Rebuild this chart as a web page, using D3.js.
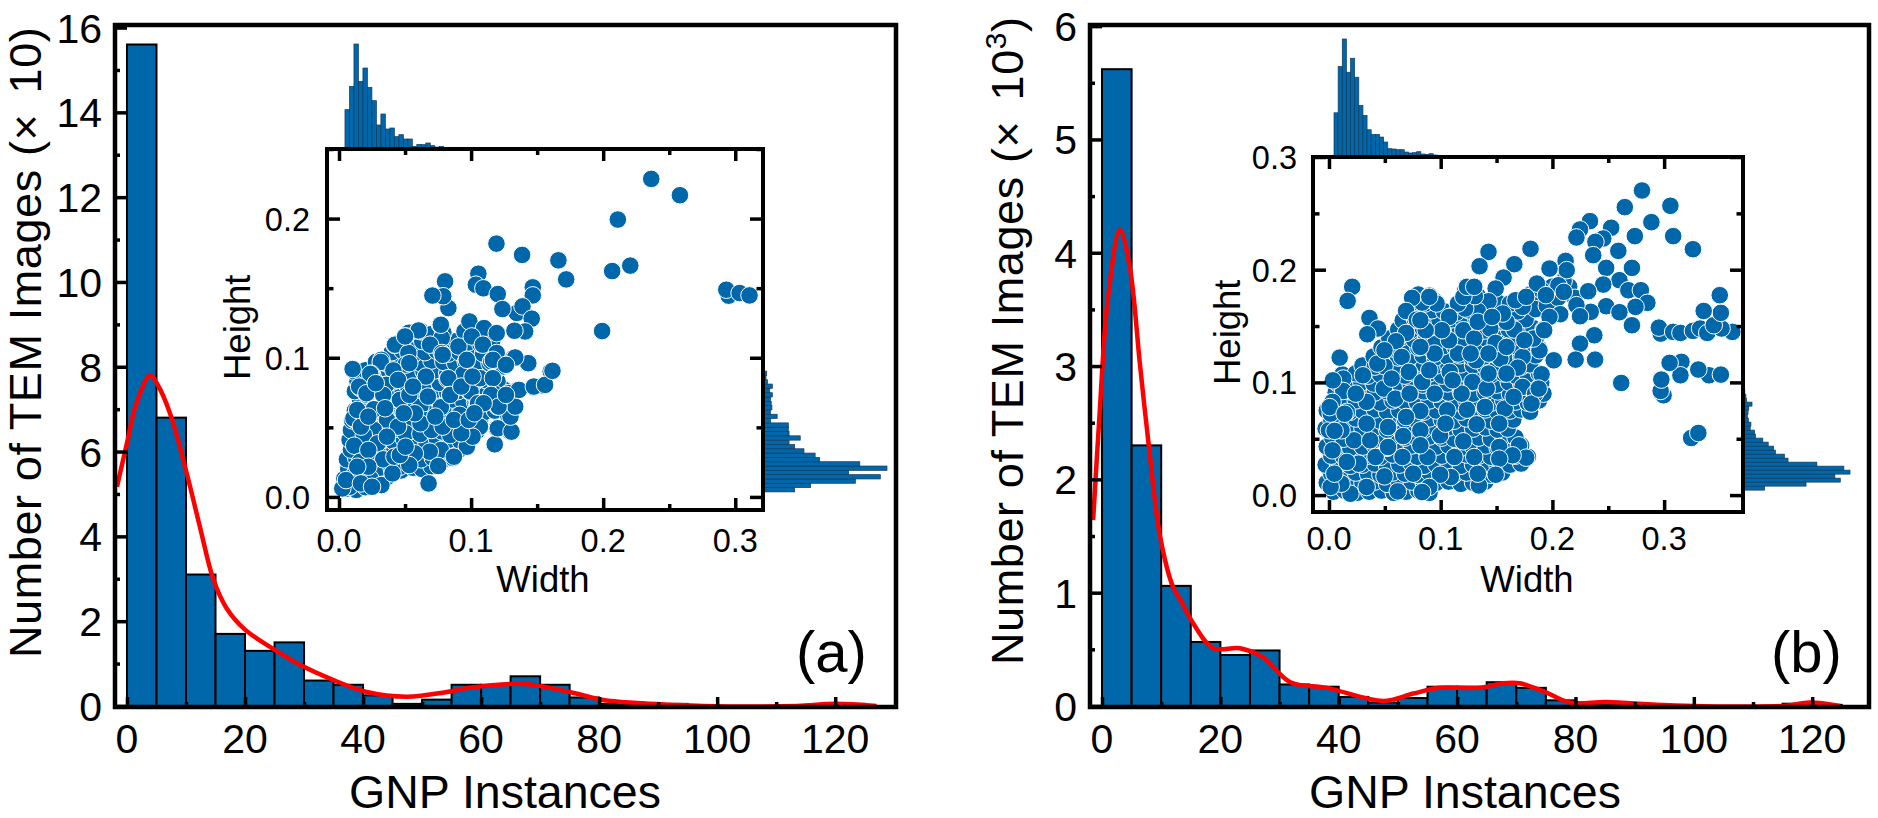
<!DOCTYPE html>
<html>
<head>
<meta charset="utf-8">
<title>GNP instances</title>
<script src="https://d3js.org/d3.v7.min.js"></script>
<style>
  html, body { margin: 0; padding: 0; background: #fff; }
  svg { display: block; }
  text { font-family: "Liberation Sans", Arial, sans-serif; fill: #000; }
</style>
</head>
<body>
<svg id="chart" width="1878" height="818"></svg>
<script>
const BLUE = '#0067ab';
const RED = '#ff0000';

// histogram of GNP instances, 5 wide bins from 0
const countsA = [15.6, 6.8, 3.1, 1.7, 1.3, 1.5, 0.6, 0.5, 0.25, 0.05, 0.15, 0.5, 0.5, 0.7, 0.5, 0.2, 0.05, 0.05, 0.05, 0, 0, 0, 0, 0.03, 0.05];
const countsB = [5.62, 2.3, 1.06, 0.565, 0.45, 0.49, 0.19, 0.17, 0.08, 0.03, 0.07, 0.17, 0.17, 0.21, 0.16, 0.05, 0.01, 0.02, 0.01, 0, 0, 0, 0, 0.02, 0.01];

// red density curves
const curveA = [[-1.7, 5.17], [0, 6.2], [1.5, 7.1], [3.9, 7.8], [5.1, 7.6], [7.3, 6.9], [10.1, 5.5], [12.4, 4.2], [14.6, 3.0], [16.9, 2.3], [20, 1.8], [24.5, 1.37], [29.3, 0.97], [35, 0.61], [40.6, 0.33], [47.4, 0.22], [54.2, 0.33], [58, 0.43], [67.2, 0.52], [75, 0.33], [80.7, 0.14], [86.4, 0.07], [92, 0.03], [97.6, 0], [113.5, 0], [120, 0.05], [127, 0]];
const curveB = [[-1.5, 1.64], [-0.5, 2.5], [1, 3.6], [3.04, 4.2], [4.7, 3.87], [6.4, 3.02], [7.9, 2.3], [9.8, 1.5], [12, 1.05], [13.2, 0.94], [15.4, 0.73], [18.8, 0.51], [23.3, 0.51], [27.2, 0.43], [31.8, 0.21], [38, 0.16], [47.5, 0.045], [52.6, 0.11], [57, 0.16], [63.9, 0.16], [67.8, 0.2], [70.6, 0.2], [75, 0.12], [79, 0.03], [85.3, 0.035], [93.7, 0.01], [100, 0], [115, 0], [119.6, 0.03], [124.7, 0]];

// marginal histograms of the insets (relative counts)
const widthBinsA = [118, 188, 315, 203, 243, 185, 145, 72, 105, 60, 63, 37, 43, 30, 30, 8, 14, 13, 18, 10, 6, 8, 3, 5, 5, 5, 2, 2, 1];
const heightBinsA = [85, 128, 248, 315, 230, 333, 260, 152, 140, 110, 85, 70, 100, 70, 68, 68, 20, 38, 20, 24, 22, 20, 25, 18, 25, 12, 8, 10, 3, 2, 3, 2, 2, 1, 1, 1, 1, 1];
const widthBinsB = [133, 272, 355, 255, 297, 240, 155, 125, 82, 68, 68, 60, 45, 25, 24, 22, 22, 15, 12, 13, 16, 9, 8, 10, 6, 3, 2, 1, 1];
const heightBinsB = [60, 175, 270, 255, 297, 280, 205, 125, 115, 90, 85, 70, 55, 35, 32, 20, 22, 15, 12, 14, 16, 25, 10, 8, 5, 3, 1, 1];

// width, height of the particles in the dense part of each cloud, estimated
const clusterA = [
  [.006, .006], [.013, .005], [.02, .007],
  [.004, .013], [.011, .014], [.018, .012], [.027, .013], [.036, .014],
  [.007, .02], [.015, .021], [.024, .019], [.031, .021], [.04, .02], [.047, .019], [.056, .021], [.063, .02], [.07, .022],
  [.006, .027], [.013, .028], [.021, .026], [.029, .028], [.038, .027], [.046, .026], [.054, .028], [.062, .027], [.071, .028], [.078, .026], [.086, .028],
  [.009, .034], [.017, .035], [.026, .033], [.034, .035], [.042, .034], [.05, .033], [.059, .035], [.067, .034], [.075, .033], [.084, .035], [.091, .034],
  [.008, .041], [.015, .04], [.024, .042], [.033, .041], [.041, .04], [.049, .042], [.058, .041], [.066, .04], [.074, .042], [.083, .041], [.092, .04], [.1, .042],
  [.009, .048], [.018, .049], [.027, .047], [.035, .048], [.044, .049], [.053, .047], [.061, .048], [.069, .049], [.078, .047], [.087, .048], [.096, .049], [.104, .047],
  [.01, .055], [.02, .054], [.029, .056], [.037, .055], [.046, .054], [.054, .056], [.063, .055], [.071, .054], [.08, .056], [.089, .055], [.098, .054], [.107, .056],
  [.012, .062], [.021, .063], [.03, .061], [.04, .062], [.048, .063], [.057, .061], [.066, .062], [.074, .063], [.083, .061], [.092, .062], [.101, .063], [.11, .061], [.118, .062],
  [.016, .069], [.025, .068], [.034, .07], [.042, .069], [.05, .068], [.059, .07], [.068, .069], [.077, .068], [.086, .07], [.094, .069], [.103, .068], [.112, .07], [.122, .069],
  [.012, .076], [.022, .077], [.031, .075], [.039, .076], [.048, .077], [.056, .075], [.065, .076], [.073, .077], [.082, .075], [.09, .076], [.099, .077], [.108, .075], [.117, .076], [.125, .077],
  [.014, .083], [.023, .082], [.032, .084], [.041, .083], [.05, .082], [.058, .084], [.067, .083], [.076, .082], [.085, .084], [.093, .083], [.102, .082], [.111, .084], [.12, .083],
  [.012, .09], [.02, .091], [.03, .089], [.038, .09], [.047, .091], [.056, .089], [.064, .09], [.073, .091], [.082, .089], [.09, .09], [.099, .091], [.108, .089], [.118, .09],
  [.028, .097], [.036, .096], [.045, .098], [.053, .097], [.062, .096], [.07, .098], [.079, .097], [.088, .096], [.096, .098], [.105, .097], [.114, .096], [.123, .098],
  [.04, .104], [.048, .105], [.057, .103], [.065, .104], [.074, .105], [.083, .103], [.091, .104], [.1, .105], [.109, .103], [.118, .104],
  [.046, .111], [.055, .11], [.063, .112], [.072, .111], [.08, .11], [.089, .112], [.098, .111], [.107, .11], [.116, .112],
  [.053, .118], [.062, .119], [.07, .117], [.079, .118], [.095, .119], [.104, .117], [.113, .118]
];
const clusterB = [
  [.004, .003], [.014, .004], [.025, .002], [.036, .003], [.047, .004], [.058, .002], [.069, .003], [.08, .004], [.09, .002],
  [-.002, .011], [.008, .012], [.019, .01], [.03, .011], [.041, .012], [.052, .01], [.063, .011], [.074, .012], [.085, .01], [.096, .011], [.107, .012], [.118, .01], [.129, .011], [.14, .012],
  [.002, .019], [.013, .018], [.024, .02], [.035, .019], [.046, .018], [.057, .02], [.068, .019], [.079, .018], [.09, .02], [.101, .019], [.112, .018], [.123, .02], [.134, .019], [.145, .018], [.155, .02],
  [-.003, .027], [.008, .028], [.019, .026], [.03, .027], [.041, .028], [.052, .026], [.063, .027], [.074, .028], [.085, .026], [.096, .027], [.107, .028], [.118, .026], [.129, .027], [.14, .028], [.151, .026], [.162, .027], [.172, .028],
  [.002, .035], [.013, .034], [.024, .036], [.035, .035], [.046, .034], [.057, .036], [.068, .035], [.079, .034], [.09, .036], [.101, .035], [.112, .034], [.123, .036], [.134, .035], [.145, .034], [.156, .036], [.167, .035], [.178, .034],
  [-.002, .043], [.008, .044], [.019, .042], [.03, .043], [.041, .044], [.052, .042], [.063, .043], [.074, .044], [.085, .042], [.096, .043], [.107, .044], [.118, .042], [.129, .043], [.14, .044], [.151, .042], [.162, .043], [.172, .044],
  [.003, .051], [.013, .05], [.024, .052], [.035, .051], [.046, .05], [.057, .052], [.068, .051], [.079, .05], [.09, .052], [.101, .051], [.112, .05], [.123, .052], [.134, .051], [.145, .05], [.156, .052], [.167, .051],
  [-.003, .059], [.008, .06], [.019, .058], [.03, .059], [.041, .06], [.052, .058], [.063, .059], [.074, .06], [.085, .058], [.096, .059], [.107, .06], [.118, .058], [.129, .059], [.14, .06], [.151, .058], [.16, .059],
  [.002, .067], [.013, .066], [.024, .068], [.035, .067], [.046, .066], [.057, .068], [.068, .067], [.079, .066], [.09, .068], [.101, .067], [.112, .066], [.123, .068], [.134, .067], [.145, .066], [.156, .068], [.165, .067],
  [-.002, .075], [.008, .076], [.019, .074], [.03, .075], [.041, .076], [.052, .074], [.063, .075], [.074, .076], [.085, .074], [.096, .075], [.107, .076], [.118, .074], [.129, .075], [.14, .076], [.151, .074], [.162, .075], [.172, .076], [.18, .074],
  [.004, .083], [.013, .082], [.024, .084], [.035, .083], [.046, .082], [.057, .084], [.068, .083], [.079, .082], [.09, .084], [.101, .083], [.112, .082], [.123, .084], [.134, .083], [.145, .082], [.156, .084], [.167, .083], [.178, .082], [.188, .084],
  [.006, .091], [.019, .092], [.03, .09], [.041, .091], [.052, .092], [.063, .09], [.074, .091], [.085, .092], [.096, .09], [.107, .091], [.118, .092], [.129, .09], [.14, .091], [.151, .092], [.162, .09], [.172, .091], [.183, .092], [.192, .09],
  [.008, .099], [.018, .098], [.029, .1], [.04, .099], [.051, .098], [.062, .1], [.073, .099], [.084, .098], [.095, .1], [.106, .099], [.117, .098], [.128, .1], [.139, .099], [.15, .098], [.161, .1], [.172, .099], [.183, .098], [.19, .1],
  [.012, .107], [.024, .108], [.035, .106], [.046, .107], [.057, .108], [.068, .106], [.079, .107], [.09, .108], [.101, .106], [.112, .107], [.123, .108], [.134, .106], [.145, .107], [.156, .108], [.167, .106], [.178, .107], [.188, .108],
  [.03, .115], [.041, .114], [.052, .116], [.063, .115], [.074, .114], [.085, .116], [.096, .115], [.107, .114], [.118, .116], [.129, .115], [.14, .114], [.151, .116], [.162, .115], [.172, .114], [.18, .116],
  [.04, .123], [.051, .124], [.062, .122], [.073, .123], [.084, .124], [.095, .122], [.106, .123], [.117, .124], [.128, .122], [.139, .123], [.15, .124], [.161, .122], [.172, .123], [.185, .124],
  [.047, .131], [.058, .13], [.069, .132], [.08, .131], [.091, .13], [.102, .132], [.113, .131], [.124, .13], [.135, .132], [.146, .131], [.157, .13], [.168, .132], [.179, .131], [.188, .13],
  [.054, .139], [.065, .14], [.076, .138], [.087, .139], [.098, .14], [.109, .138], [.12, .139], [.131, .14], [.142, .138], [.153, .139], [.164, .14], [.175, .138], [.185, .139],
  [.062, .147], [.073, .146], [.084, .148], [.095, .147], [.106, .146], [.117, .148], [.128, .147], [.139, .146], [.15, .148], [.161, .147], [.172, .146], [.183, .148], [.192, .147],
  [.066, .155], [.077, .156], [.088, .154], [.099, .155], [.11, .156], [.121, .154], [.132, .155], [.143, .156], [.154, .154], [.165, .155], [.176, .156],
  [.07, .163], [.081, .162], [.092, .164], [.103, .163], [.114, .162], [.125, .164], [.136, .163], [.147, .162], [.158, .164], [.169, .163],
  [.075, .171], [.086, .17], [.095, .172], [.118, .171], [.129, .17], [.14, .172], [.151, .171], [.162, .17], [.175, .172],
  [.08, .178], [.09, .177], [.122, .178], [.133, .177], [.18, .178], [.19, .177], [.185, .165], [.195, .168], [.205, .175], [.2, .185], [.19, .182], [.215, .185], [.22, .175], [.21, .19]
];

// width, height of the particles that can be told apart
const scatterA = [
  [.2364, .2285], [.2581, .2168], [.2111, .1993], [.1192, .182], [.1386, .1739], [.1661, .17], [.172, .1563], [.2205, .1662], [.2068, .1623], [.1992, .1192],
  [.295, .1446], [.2932, .1489], [.3033, .1465], [.3108, .1448], [.0803, .1549], [.1055, .1604], [.1036, .1525], [.1093, .1499], [.1202, .1458], [.1467, .1506],
  [.1467, .1448], [.1346, .1322], [.1389, .1369], [.1237, .135], [.1459, .1281], [.0828, .1357], [.0789, .1442], [.0707, .1447], [.0987, .1261], [.1098, .1213],
  [.1409, .1189], [.1328, .1194], [.1194, .1177], [.0765, .1237], [.0778, .1142], [.0601, .1196], [.0321, .0985], [.0419, .1093], [.0504, .1153], [.0602, .1196],
  [.0771, .1237], [.0424, .1094], [.0689, .1094], [.0904, .1081], [.1005, .1153], [.1089, .1094], [.1194, .1034], [.0778, .1034], [.0525, .1034], [.05, .1153],
  [.1321, .0998], [.1429, .0962], [.1603, .0902], [.1548, .0799], [.1472, .0787], [.1346, .0765], [.1283, .0746], [.1321, .065], [.1283, .0578], [.1194, .0494],
  [.1295, .047], [.1245, .0938], [.1152, .0974], [.096, .097], [.0505, .0951], [.0316, .097], [.0103, .0919], [.0243, .0885], [.0412, .0909], [.0356, .0806],
  [.0656, .0859], [.0821, .0845], [.1055, .0845], [.1161, .0852], [.0942, .0883], [.0638, .0775], [.0987, .0758], [.0841, .0734], [.0331, .0734], [.0462, .0691],
  [.0588, .0722], [.0159, .0783], [.0209, .0734], [.1043, .0679], [.1169, .0746], [.1199, .065], [.0765, .0638], [.026, .0629], [.0114, .0559], [.0538, .0638],
  [.0664, .0602], [.0914, .059], [.0361, .0566], [.1018, .0554], [.0236, .0884], [.0357, .0805], [.0152, .0793], [.0208, .0745], [.0335, .0733], [.0461, .0697],
  [.0532, .0961], [.0658, .0865], [.0827, .0853], [.0996, .0757], [.1067, .0853], [.1165, .0985], [.0968, .0985], [.0785, .1021], [.1165, .0853], [.1151, .0733],
  [.1053, .0673], [.0771, .0644], [.0616, .0649], [.0532, .0733], [.0264, .063], [.0109, .0565], [.0363, .0553], [.0264, .0481], [.0188, .0445], [.0115, .0368],
  [.0292, .0385], [.0504, .0457], [.0616, .0452], [.0673, .0553], [.0842, .0445], [.0968, .0361], [.0771, .0337], [.087, .0289], [.0687, .0325], [.0574, .0313],
  [.0461, .0217], [.0335, .027], [.016, .0253], [.0123, .0169], [.0081, .0073], [.0025, .0061], [.0236, .0133], [.0321, .0085], [.0405, .0169], [.0532, .0229],
  [.0751, .0222], [.0678, .0097], [.1179, .0378], [.1202, .0493], [.1306, .0469], [.1298, .0577], [.1334, .0649], [.1362, .0769], [.1475, .0793], [.156, .0805],
  [.1616, .0906], [.1433, .0961], [.1334, .1002], [.1264, .0949], [.1208, .0649], [.1264, .0733], [.1067, .0505], [.1011, .0433], [.0926, .0457], [.0701, .0481],
  [.0616, .0529], [.0447, .0505], [.0166, .0505], [.0363, .0433], [.0222, .0337], [.0419, .0289], [.0222, .0217], [.0138, .0217], [.0053, .0121], [.0166, .0097],
  [.025, .0073], [.0461, .0301], [.0504, .0361], [.0785, .0505], [.087, .0553], [.0982, .0553], [.0574, .0601], [.049, .0601], [.0729, .0577], [.0673, .0721],
  [.0842, .0733], [.0926, .0793], [.0447, .0841], [.056, .0793], [.0278, .0817], [.0138, .0625], [.0349, .0637], [.0222, .0577], [.1011, .0865], [.1095, .0673], [.1025, .0601]
];
const scatterB = [
  [.2802, .2703], [.2648, .2555], [.3056, .2567], [.2886, .2422], [.3081, .2298], [.2738, .2298], [.3258, .2182], [.2336, .2431], [.2526, .2372], [.2247, .2357],
  [.2215, .2286], [.2455, .2277], [.2385, .2247], [.259, .2167], [.2365, .2129], [.1428, .2158], [.1804, .2185], [.1348, .2031], [.1659, .2049], [.1563, .193],
  [.1492, .1833], [.2118, .2078], [.2128, .1996], [.1974, .201], [.2481, .2016], [.2712, .2016], [.26, .1907], [.2455, .1868], [.232, .1809], [.2054, .1862],
  [.1861, .1877], [.1942, .1774], [.2102, .1803], [.268, .1818], [.2792, .1818], [.285, .1706], [.2744, .167], [.2481, .1676], [.26, .1623], [.2343, .1626],
  [.2215, .1685], [.2247, .1587], [.207, .1605], [.1974, .1581], [.2712, .1507], [.2375, .1418], [.2247, .1344], [.2208, .1202], [.2382, .1202], [.2012, .1196],
  [.2969, .1433], [.2953, .1486], [.3081, .1448], [.3146, .1439], [.3258, .1457], [.3322, .1478], [.3386, .1439], [.3611, .1448], [.3514, .1478], [.3444, .1507],
  [.3508, .1617], [.3354, .1634], [.3498, .1774], [.3155, .1182], [.3146, .1063], [.3049, .1173], [.3402, .1063], [.3306, .1114], [.3508, .1069], [.2995, .0886],
  [.2969, .0924], [.2975, .1025], [.2616, .0995], [.3242, .0507], [.3306, .0551], [.1903, .1072], [.1884, .1285], [.1829, .1389], [.1926, .1463], [.1733, .1226],
  [.1691, .1131], [.1534, .1211], [.1316, .1196], [.1659, .1469], [.1444, .1478], [.1203, .1463], [.13, .1389], [.1492, .135], [.1589, .1537], [.1733, .167],
  [.1669, .1729], [.1428, .172], [.1332, .1634], [.1219, .1655], [.1155, .17], [.1219, .1812], [.1306, .1765], [.0963, .17], [.0834, .1708], [.0744, .175],
  [.0898, .1759], [.069, .1634], [.0786, .1557], [.1075, .1581], [.0946, .1338], [.069, .1439], [.06, .1365], [.0362, .1572], [.0439, .1478], [.0343, .1427],
  [.0208, .1848], [.0167, .1723], [.0096, .122], [.0651, .1226], [.0497, .1143], [.0304, .1063], [.0128, .1034], [.0715, .1093], [.0834, .1004], [.0898, .1108],
  [.1081, .1093], [.0946, .1256], [.1155, .1256], [.1284, .1004], [.1412, .0945], [.1589, .1078], [.1733, .096], [.1845, .09], [.1813, .0812], [.1573, .0767],
  [.1235, .0758], [.1059, .0752], [.0818, .0746], [.0491, .0945], [.0128, .0924], [.0594, .0856], [.0337, .0827], [.0032, .0827], [.016, .0738], [.1187, .09],
  [.0946, .09], [.0722, .09], [.1524, .0634], [.1322, .0628], [.0995, .053], [.1203, .0477], [.0664, .0524], [.0818, .0575], [.1043, .0634], [.0224, .0486],
  [.0369, .0486], [.0032, .0397], [.0417, .0338], [.0266, .0279], [.016, .0294], [.1123, .0338], [.1524, .0427], [.1701, .0441], [.1765, .0332], [.1643, .0353],
  [.1524, .0323], [.1492, .0181], [.1342, .0086], [.1332, .019], [.1091, .016], [.0995, .0181], [.0898, .0072], [.0834, .0027], [.0616, .0033], [.0497, .0166],
  [.0754, .019], [.0192, .0012], [.0112, .0101], [.0015, .0072], [.0337, .0072], [.0, .0575], [.0048, .019], [.0658, .0338], [.0882, .0338], [.13, .0338],
  [.0818, .0442], [.0529, .0427], [.0529, .0604], [.0337, .0634], [.0112, .0575], [.0016, .0723], [.024, .09], [.069, .0693], [.1396, .0782], [.1653, .0871],
  [.1877, .0945], [.1428, .1078], [.1107, .1019], [.0561, .1034], [.0433, .1167], [.0497, .1285], [.0818, .1315], [.1075, .1374], [.1589, .1315], [.1749, .1374],
  [.1332, .1537], [.1556, .1611], [.1765, .1759], [.146, .1581], [.1203, .1759], [.1011, .1463], [.0866, .1463], [.1235, .1848], [.13, .1848], [.0818, .1552],
  [.1268, .1256], [.1428, .1256], [.0035, .1018], [.0006, .0781], [.014, .0722], [.005, .057]
];

const instanceTicks = [0, 20, 40, 60, 80, 100, 120];
const instanceMinorTicks = [10, 30, 50, 70, 90, 110];
const countTicksA = [0, 2, 4, 6, 8, 10, 12, 14, 16];
const countMinorTicksA = [1, 3, 5, 7, 9, 11, 13, 15];
const countTicksB = [0, 1, 2, 3, 4, 5, 6];
const countMinorTicksB = [0.5, 1.5, 2.5, 3.5, 4.5, 5.5];
const sizeTicks = [0, 0.1, 0.2, 0.3];
const sizeMinorTicks = [0.05, 0.15, 0.25];

const svg = d3.select('#chart');

const panelA = {
  label: '(a)', labelX: 796, labelY: 672,
  box: { left: 115, right: 896, top: 25, bottom: 707 },
  xDomain: [-2.03, 130.3], yDomain: [-0.024, 16.06],
  yTicks: countTicksA, yMinor: countMinorTicksA,
  counts: countsA, curve: curveA,
  titleX: 41, titleY: 658, titleMark: '10', xTitleX: 505,
  inset: {
    box: { left: 327, right: 763, top: 149, bottom: 510 },
    xDomain: [-0.0091, 0.321], yDomain: [-0.0094, 0.25],
    yTickValues: [0, 0.1, 0.2],
    points: clusterA.concat(scatterA),
    topBins: widthBinsA, topStart: 0.0045, topStep: 0.0034, topMax: 315, topLength: 105,
    rightBins: heightBinsA, rightStart: 0.0036, rightStep: 0.0031, rightMax: 333, rightLength: 124,
    tickRight: 310, xTickY: 552, titleY: 592, widthX: 543, heightX: 250, heightY: 380
  }
};

const panelB = {
  label: '(b)', labelX: 1771, labelY: 672,
  box: { left: 1090, right: 1869, top: 25, bottom: 707 },
  xDomain: [-2.03, 129.6], yDomain: [-0.009, 6.01],
  yTicks: countTicksB, yMinor: countMinorTicksB,
  counts: countsB, curve: curveB,
  titleX: 1023, titleY: 665, titleMark: '10', titleSup: '3', xTitleX: 1465,
  inset: {
    box: { left: 1313, right: 1743, top: 157, bottom: 512 },
    xDomain: [-0.0143, 0.3706], yDomain: [-0.015, 0.3],
    yTickValues: [0, 0.1, 0.2, 0.3],
    points: clusterB.concat(scatterB),
    topBins: widthBinsB, topStart: 0.0045, topStep: 0.0037, topMax: 355, topLength: 118,
    rightBins: heightBinsB, rightStart: 0.0044, rightStep: 0.00355, rightMax: 297, rightLength: 107,
    tickRight: 1297, xTickY: 550, titleY: 592, widthX: 1527, heightX: 1240, heightY: 385
  }
};

// inward ticks only, the frame is drawn on its own
const addTicks = (group, axis, translate, width) => {
  const g = group.append('g').attr('transform', translate).call(axis);
  g.select('.domain').remove();
  g.selectAll('.tick text').remove();
  g.selectAll('.tick line').attr('stroke', '#000').attr('stroke-width', width);
};

const addFrame = (group, box, width) => {
  group.append('rect')
    .attr('x', box.left)
    .attr('y', box.top)
    .attr('width', box.right - box.left)
    .attr('height', box.bottom - box.top)
    .attr('fill', 'none')
    .attr('stroke', '#000')
    .attr('stroke-width', width);
};

const drawInset = (group, inset) => {
  const { box } = inset;
  const x = d3.scaleLinear().domain(inset.xDomain).range([box.left, box.right]);
  const y = d3.scaleLinear().domain(inset.yDomain).range([box.bottom, box.top]);

  // 1. marginal histograms
  const topLen = d3.scaleLinear().domain([0, inset.topMax]).range([0, inset.topLength]);
  group.append('g').selectAll('rect')
    .data(inset.topBins)
    .join('rect')
    .attr('x', (d, i) => x(inset.topStart + i * inset.topStep))
    .attr('width', x(inset.topStep) - x(0))
    .attr('y', (d) => box.top - topLen(d))
    .attr('height', (d) => topLen(d))
    .attr('fill', BLUE)
    .attr('stroke', '#123a5c')
    .attr('stroke-width', 0.7);

  const rightLen = d3.scaleLinear().domain([0, inset.rightMax]).range([0, inset.rightLength]);
  group.append('g').selectAll('rect')
    .data(inset.rightBins)
    .join('rect')
    .attr('x', box.right)
    .attr('y', (d, i) => y(inset.rightStart + (i + 1) * inset.rightStep))
    .attr('width', (d) => rightLen(d))
    .attr('height', y(0) - y(inset.rightStep))
    .attr('fill', BLUE)
    .attr('stroke', '#123a5c')
    .attr('stroke-width', 0.7);

  // 2. white background and points
  group.append('rect')
    .attr('x', box.left).attr('y', box.top)
    .attr('width', box.right - box.left).attr('height', box.bottom - box.top)
    .attr('fill', '#fff');

  group.append('g').selectAll('circle')
    .data(inset.points)
    .join('circle')
    .attr('cx', (d) => x(d[0]))
    .attr('cy', (d) => y(d[1]))
    .attr('r', 8.8)
    .attr('fill', BLUE)
    .attr('stroke', '#fff')
    .attr('stroke-width', 1);

  // 3. ticks on all four sides
  const sides = [
    [d3.axisBottom(x), `translate(0,${box.top})`, sizeTicks, sizeMinorTicks, 12, 6],
    [d3.axisTop(x), `translate(0,${box.bottom})`, sizeTicks, sizeMinorTicks, 12, 6],
    [d3.axisRight(y), `translate(${box.left},0)`, inset.yTickValues, sizeMinorTicks, 13, 6.5],
    [d3.axisLeft(y), `translate(${box.right},0)`, inset.yTickValues, sizeMinorTicks, 13, 6.5]
  ];
  sides.forEach(([axis, translate, major, minor, majorLen, minorLen]) => {
    addTicks(group, axis.tickValues(major).tickSize(majorLen), translate, 3.5);
    addTicks(group, axis.tickValues(minor).tickSize(minorLen), translate, 3.5);
  });
  addFrame(group, box, 4);

  // 4. labels
  group.append('g').selectAll('text')
    .data(sizeTicks)
    .join('text')
    .attr('x', (d) => x(d))
    .attr('y', inset.xTickY)
    .attr('text-anchor', 'middle')
    .attr('font-size', 32.5)
    .text((d) => d.toFixed(1));

  group.append('g').selectAll('text')
    .data(inset.yTickValues)
    .join('text')
    .attr('x', inset.tickRight)
    .attr('y', (d) => y(d) + 12)
    .attr('text-anchor', 'end')
    .attr('font-size', 32.5)
    .text((d) => d.toFixed(1));

  group.append('text')
    .attr('x', inset.widthX)
    .attr('y', inset.titleY)
    .attr('text-anchor', 'middle')
    .attr('font-size', 36.5)
    .text('Width');

  group.append('text')
    .attr('transform', `translate(${inset.heightX},${inset.heightY}) rotate(-90)`)
    .attr('font-size', 36.5)
    .text('Height');
};

const drawPanel = (panel) => {
  const { box } = panel;
  const group = svg.append('g');
  const x = d3.scaleLinear().domain(panel.xDomain).range([box.left, box.right]);
  const y = d3.scaleLinear().domain(panel.yDomain).range([box.bottom, box.top]);

  // 1. bars
  group.append('g').selectAll('rect')
    .data(panel.counts)
    .join('rect')
    .attr('x', (d, i) => x(i * 5))
    .attr('width', x(5) - x(0))
    .attr('y', (d) => y(d))
    .attr('height', (d) => y(0) - y(d))
    .attr('fill', BLUE)
    .attr('stroke', '#000')
    .attr('stroke-width', 2);

  // 2. inset sits under the curve and the frame
  drawInset(group, panel.inset);

  // 3. density curve
  const line = d3.line()
    .x((d) => x(d[0]))
    .y((d) => y(d[1]))
    .curve(d3.curveCatmullRom.alpha(0.5));
  group.append('path')
    .attr('d', line(panel.curve))
    .attr('fill', 'none')
    .attr('stroke', RED)
    .attr('stroke-width', 4.5);

  // 4. axes
  const bottom = `translate(0,${box.bottom})`;
  const left = `translate(${box.left},0)`;
  addTicks(group, d3.axisTop(x).tickValues(instanceTicks).tickSize(10), bottom, 3.5);
  addTicks(group, d3.axisTop(x).tickValues(instanceMinorTicks).tickSize(5), bottom, 3.5);
  addTicks(group, d3.axisRight(y).tickValues(panel.yTicks).tickSize(12), left, 3.5);
  addTicks(group, d3.axisRight(y).tickValues(panel.yMinor).tickSize(5), left, 3.5);
  addFrame(group, box, 4.5);

  group.append('g').selectAll('text')
    .data(instanceTicks)
    .join('text')
    .attr('x', (d) => x(d))
    .attr('y', 753)
    .attr('text-anchor', 'middle')
    .attr('font-size', 41)
    .text((d) => d);

  group.append('g').selectAll('text')
    .data(panel.yTicks)
    .join('text')
    .attr('x', box.left - 13)
    .attr('y', (d) => y(d) + 15)
    .attr('text-anchor', 'end')
    .attr('font-size', 41)
    .text((d) => d);

  // 5. titles
  group.append('text')
    .attr('x', panel.xTitleX)
    .attr('y', 808)
    .attr('text-anchor', 'middle')
    .attr('font-size', 46.5)
    .text('GNP Instances');

  const title = group.append('text')
    .attr('transform', `translate(${panel.titleX},${panel.titleY}) rotate(-90)`)
    .attr('font-size', 45)
    .attr('letter-spacing', 0.6);
  title.append('tspan').text('Number of TEM Images (\u00d7');
  title.append('tspan').attr('dx', 7).text(` ${panel.titleMark}`);
  if (panel.titleSup) {
    title.append('tspan').attr('dy', -17).attr('font-size', 30).text(panel.titleSup);
    title.append('tspan').attr('dy', 17).text(')');
  } else {
    title.append('tspan').text(')');
  }

  group.append('text')
    .attr('x', panel.labelX)
    .attr('y', panel.labelY)
    .attr('font-size', 58)
    .text(panel.label);
};

drawPanel(panelA);
drawPanel(panelB);
</script>
</body>
</html>
